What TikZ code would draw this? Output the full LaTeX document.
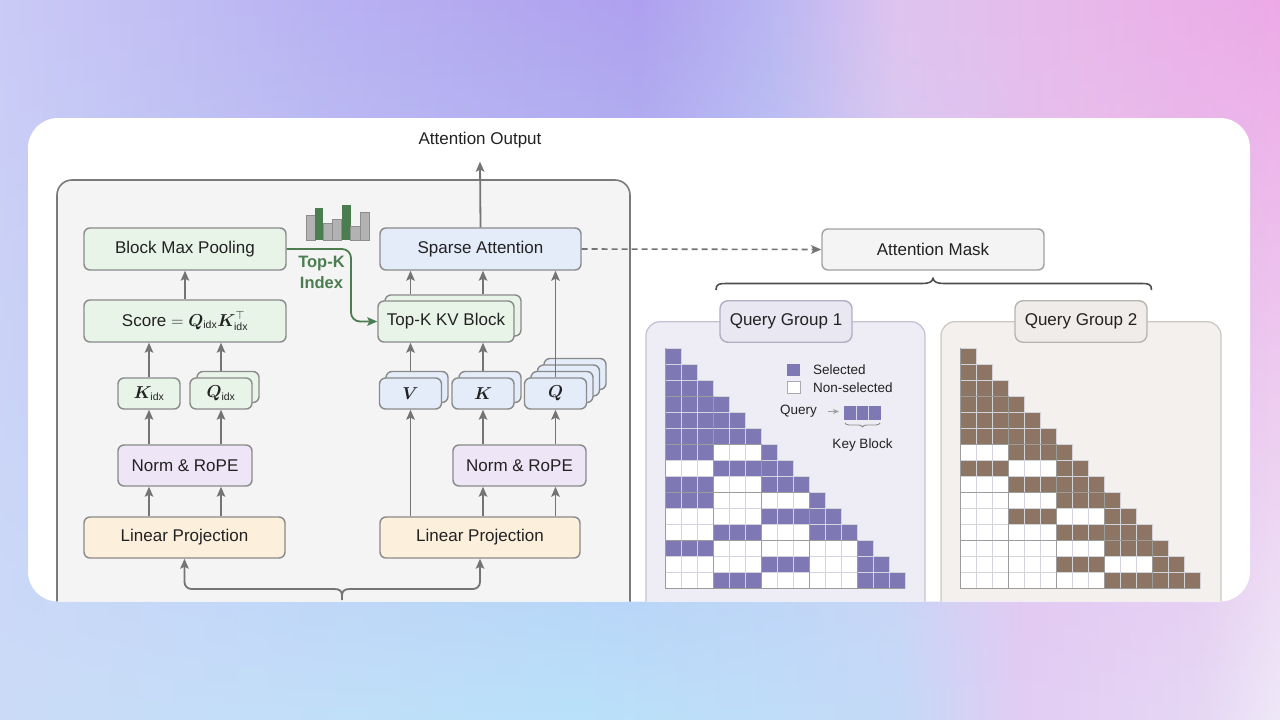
\documentclass[tikz,border=0pt]{standalone}
\usepackage{amsmath,bm}
\usepackage{fontspec}
\setmainfont{Liberation Sans}
\usetikzlibrary{arrows.meta,fadings,decorations.pathreplacing}

\definecolor{txt}{HTML}{222222}
\definecolor{edge}{HTML}{8A8A8A}
\definecolor{arr}{HTML}{747474}
\definecolor{gfill}{HTML}{E9F4E8}
\definecolor{bfill}{HTML}{E3ECF8}
\definecolor{pfill}{HTML}{EEE5F6}
\definecolor{ofill}{HTML}{FCF0DD}
\definecolor{panel}{HTML}{F4F4F4}
\definecolor{panelbd}{HTML}{7A7A7A}
\definecolor{grn}{HTML}{4B7D50}
\definecolor{barg}{HTML}{B2B2B2}
\definecolor{bargbd}{HTML}{8E8E8E}
\definecolor{qgA}{HTML}{EEEDF5}
\definecolor{qgAbd}{HTML}{C4C2D6}
\definecolor{qgAlab}{HTML}{E8E7F2}
\definecolor{qgB}{HTML}{F3F0ED}
\definecolor{qgBbd}{HTML}{CDC9C5}
\definecolor{qgBlab}{HTML}{EFECE9}
\definecolor{selA}{HTML}{7E79B4}
\definecolor{selB}{HTML}{8D7563}
\definecolor{cellln}{HTML}{D4D4DC}
\definecolor{blkln}{HTML}{9C9C9C}
% background colours
\definecolor{tA}{HTML}{CACBF6}
\definecolor{tB}{HTML}{B9B2F2}
\definecolor{tC}{HTML}{AFA0EF}
\definecolor{tD}{HTML}{B9B6F2}
\definecolor{tE}{HTML}{DFC4EF}
\definecolor{tF}{HTML}{E9B8EA}
\definecolor{tG}{HTML}{EDA9E7}
\definecolor{bA}{HTML}{CCDCF8}
\definecolor{bB}{HTML}{BAE2FA}
\definecolor{bC}{HTML}{C4DAF8}
\definecolor{bD}{HTML}{E2CDF4}
\definecolor{bE}{HTML}{E6D8F5}
\definecolor{bF}{HTML}{EEEAF8}

\pgfdeclarehorizontalshading{topbg}{100bp}{color(0bp)=(tA); color(25bp)=(tA); color(37.5bp)=(tB); color(50bp)=(tC); color(55bp)=(tD); color(60bp)=(tE); color(67.5bp)=(tF); color(75bp)=(tG); color(100bp)=(tG)}
\pgfdeclarehorizontalshading{botbg}{100bp}{color(0bp)=(bA); color(25bp)=(bA); color(47.5bp)=(bB); color(60bp)=(bC); color(65bp)=(bD); color(72bp)=(bE); color(75bp)=(bF); color(100bp)=(bF)}

\newcommand{\idx}{\text{\fontsize{10.5}{11}\selectfont idx}}

% #1 x0, #2 y0, #3 colour, #4 rows/selected blocks
\newcommand{\maskgrid}[4]{%
  \begin{scope}[shift={(#1,#2)}, x=16pt, y=-16pt]
    \foreach \r in {0,...,14} \fill[white] (0,\r) rectangle (\r+1,\r+1);
    \foreach \r/\bl in {#4} {
      \foreach \b in \bl {
        \pgfmathsetmacro\xa{3*\b}
        \pgfmathsetmacro\xb{min(3*\b+3,\r+1)}
        \fill[#3] (\xa,\r) rectangle (\xb,\r+1);
      }
    }
    \foreach \r in {0,...,14} \foreach \c in {0,...,\r}
      \draw[cellln, line width=0.7pt] (\c,\r) rectangle ++(1,1);
    \foreach \k in {3,6,9,12} {
      \draw[blkln, line width=0.9pt] (\k,\k) -- (\k,15);
      \draw[blkln, line width=0.9pt] (0,\k) -- (\k,\k);
    }
    \draw[blkln, line width=0.9pt] (0,0) -- (0,15) -- (15,15);
  \end{scope}
}

\begin{document}
\begin{tikzpicture}[x=1pt, y=-1pt,
  box/.style={draw=edge, line width=1.4pt, rounded corners=6pt, inner sep=0pt, text=txt,
              font=\fontsize{17}{20}\selectfont},
  gbox/.style={box, fill=gfill},
  bbox/.style={box, fill=bfill},
  pbox/.style={box, fill=pfill},
  obox/.style={box, fill=ofill},
  wide/.style={minimum width=202pt, minimum height=42pt},
  small/.style={minimum width=62pt, minimum height=31pt},
  arrow/.style={draw=arr, line width=1.8pt, -{Stealth[length=10pt,width=8.5pt,inset=2pt]}},
  plain/.style={draw=arr, line width=1.8pt},
  garrow/.style={draw=grn, line width=1.8pt, -{Stealth[length=10pt,width=8.5pt,inset=2pt]}},
  lbl/.style={text=txt, inner sep=0pt, font=\fontsize{17}{20}\selectfont},
  leg/.style={text=txt, inner sep=0pt, font=\fontsize{13.5}{16}\selectfont},
]
\useasboundingbox (0,0) rectangle (1280,720);
% background
\shade[shading=topbg] (-2,-2) rectangle (1282,722);
\shade[shading=botbg, path fading=north] (-2,-2) rectangle (1282,722);
% card
\fill[white, rounded corners=30pt] (28,118) rectangle (1250,601.5);
\begin{scope}
\clip[rounded corners=30pt] (28,118) rectangle (1250,601.5);

% left big panel
\draw[fill=panel, draw=panelbd, line width=1.6pt, rounded corners=15pt] (57,180) rectangle (630,660);

% ---------- left column ----------
\node[gbox, wide] (bmp) at (185,249) {Block Max Pooling};
\node[gbox, wide] (score) at (185,321) {Score $=\bm{Q}_{\idx}\bm{K}_{\idx}^{\top}$};
\node[gbox, small] (kidx) at (149,393.5) {$\bm{K}_{\idx}$};
\node[gbox, small] (qidxb) at (228,387) {};
\node[gbox, small] (qidx) at (221,393.5) {$\bm{Q}_{\idx}$};
\node[pbox, minimum width=134pt, minimum height=41pt] (norml) at (185,465.5) {Norm \& RoPE};
\node[obox, minimum width=201pt, minimum height=41pt] (lpl) at (184.5,537.5) {Linear Projection};

% ---------- right column ----------
\node[bbox, minimum width=201pt, minimum height=42pt] (sa) at (480.5,249) {Sparse Attention};
\node[gbox, minimum width=136pt, minimum height=41pt] (kvb) at (453,315.5) {};
\node[gbox, minimum width=136pt, minimum height=41pt] (kv) at (446,321.5) {Top-K KV Block};
\node[bbox, small] (vb) at (417,387) {};
\node[bbox, small] (v) at (410.5,393.5) {$\bm{V}$};
\node[bbox, small] (kb) at (490,387) {};
\node[bbox, small] (k) at (483,393.5) {$\bm{K}$};
\node[bbox, small] (qd) at (575,374) {};
\node[bbox, small] (qc) at (568.5,380.5) {};
\node[bbox, small] (qb) at (562,387) {};
\node[bbox, small] (q) at (555.5,393.5) {$\bm{Q}$};
\node[pbox, minimum width=133pt, minimum height=41pt] (normr) at (519.5,465.5) {Norm \& RoPE};
\node[obox, minimum width=200pt, minimum height=41pt] (lpr) at (480,537.5) {Linear Projection};

\node[lbl] (ao) at (480,140.5) {Attention Output};
\node[box, draw=edge!80, fill=panel, minimum width=222pt, minimum height=41pt] (am) at (933,249.5) {Attention Mask};

% ---------- arrows left ----------
\draw[arrow] (score.north) -- (bmp.south);
\draw[arrow] (kidx.north) -- (kidx.north |- score.south);
\draw[arrow] (qidx.north |- qidxb.north) -- (qidx.north |- score.south);
\draw[arrow] (kidx.south |- norml.north) -- (kidx.south);
\draw[arrow] (qidx.south |- norml.north) -- (qidx.south);
\draw[arrow] (kidx.south |- lpl.north) -- (kidx.south |- norml.south);
\draw[arrow] (qidx.south |- lpl.north) -- (qidx.south |- norml.south);

% ---------- arrows right ----------
\draw[arrow] (v.south |- lpr.north) -- (v.south);
\draw[arrow] (k.south |- lpr.north) -- (k.south |- normr.south);
\draw[arrow] (q.south |- lpr.north) -- (q.south |- normr.south);
\draw[arrow] (k.south |- normr.north) -- (k.south);
\draw[arrow] (q.south |- normr.north) -- (q.south);
\draw[arrow] (v.north |- vb.north) -- (v.north |- kv.south);
\draw[arrow] (k.north |- kb.north) -- (k.north |- kv.south);
\draw[arrow] (v.north |- kvb.north) -- (v.north |- sa.south);
\draw[arrow] (k.north |- kvb.north) -- (k.north |- sa.south);
\draw[arrow] (q.north) -- (q.north |- sa.south);
\draw[arrow] (sa.north) -- ([yshift=-13pt]ao.south);
\draw[arrow, line width=1.6pt, dash pattern=on 6pt off 4pt] (sa.east) -- (am.west);

% green top-k index path
\draw[garrow, rounded corners=9pt] (bmp.east) -- (351,249) -- (351,321.5) -- (kv.west);
\node[text=grn, inner sep=0pt, align=center, font=\fontsize{16.5}{21.5}\selectfont\bfseries] (tki) at (321.5,272.5) {Top-K\\Index};

% bar chart
\fill[barg, draw=bargbd, line width=0.6pt] (306,215) rectangle (315.3,240);
\fill[grn] (315.3,208.3) rectangle (323.3,240);
\fill[barg, draw=bargbd, line width=0.6pt] (323.3,223) rectangle (332.7,240);
\fill[barg, draw=bargbd, line width=0.6pt] (332.7,219) rectangle (341.7,240);
\fill[grn] (341.7,205) rectangle (350.7,240);
\fill[barg, draw=bargbd, line width=0.6pt] (350.7,226.7) rectangle (360,240);
\fill[barg, draw=bargbd, line width=0.6pt] (360,212.3) rectangle (369.3,240);

% bottom split connector
\coordinate (split) at (342,600);
\draw[arrow, rounded corners=7pt] (335,589) -| (lpl.south);
\draw[arrow, rounded corners=7pt] (349,589) -| (lpr.south);
\draw[plain] (334,589) .. controls (340,589) and (342,591) .. (342,596) -- (split);
\draw[plain] (350,589) .. controls (344,589) and (342,591) .. (342,596);

% brace under attention mask
\coordinate (brL) at (716,290);
\coordinate (brR) at (1151.5,290);
\draw[draw=txt!80, line width=1.6pt] (brL) .. controls (716,284) and (719,283.5) .. (726,283.5) -- (922,283.5) .. controls (929,283.5) and (932,282) .. (933,278.5)
  .. controls (934,282) and (937,283.5) .. (944,283.5) -- (1141.5,283.5) .. controls (1148.5,283.5) and (1151.5,284) .. (brR);

% ---------- query group 1 ----------
\draw[fill=qgA, draw=qgAbd, line width=1.3pt, rounded corners=14pt] (646,321.7) rectangle (925,660);
\node[box, fill=qgAlab, draw=qgAbd!90!black, rounded corners=8pt, minimum width=132pt, minimum height=41.5pt] (qg1) at (786,321.5) {Query Group 1};
\maskgrid{665}{348}{selA}{0/{0},1/{0},2/{0},3/{0,1},4/{0,1},5/{0,1},6/{0,2},7/{1,2},8/{0,2},9/{0,3},10/{2,3},11/{1,3},12/{0,4},13/{2,4},14/{1,4}}
% legend
\fill[selA] (787,364) rectangle (800,376);
\draw[fill=white, draw=cellln!80!black, line width=0.6pt] (787,381.5) rectangle (800,393.5);
\node[leg, anchor=west] (lsel) at (813,370) {Selected};
\node[leg, anchor=west] (lnon) at (813,387.5) {Non-selected};
\node[leg, anchor=east] (lq) at (817,411.5) {Query};
\fill[selA] (844,406) rectangle (881,420);
\draw[white!70!selA, line width=0.5pt] (856.3,406) -- (856.3,420) (868.6,406) -- (868.6,420);
\coordinate (kbar) at (844,413);
\draw[draw=arr!70, line width=1pt, -{Stealth[length=6pt,width=5pt]}] (lq.east) ++(11,0) -- ++(11,0);
\draw[draw=edge, line width=0.9pt, decorate, decoration={brace, mirror, amplitude=4pt}] (845,423) -- (880,423);
\node[leg] (lkb) at (862.5,445) {Key Block};

% ---------- query group 2 ----------
\draw[fill=qgB, draw=qgBbd, line width=1.3pt, rounded corners=14pt] (941,321.7) rectangle (1221,660);
\node[box, fill=qgBlab, draw=qgBbd!90!black, rounded corners=8pt, minimum width=132pt, minimum height=41.5pt] (qg2) at (1081,321.5) {Query Group 2};
\maskgrid{960}{348}{selB}{0/{0},1/{0},2/{0},3/{0,1},4/{0,1},5/{0,1},6/{1,2},7/{0,2},8/{1,2},9/{2,3},10/{1,3},11/{2,3},12/{3,4},13/{2,4},14/{3,4}}

\end{scope}
\end{tikzpicture}
\end{document}
